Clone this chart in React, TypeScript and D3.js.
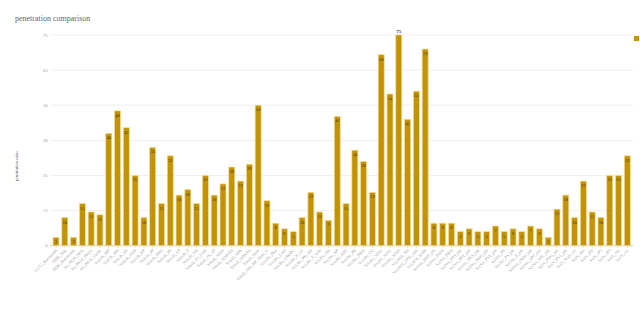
import React from "react";
import * as d3 from "d3";

const categories: string[] = [
  "U17U_Bandwidth", "DDR_Stig", "DDR_Bandwidth", "Int_PKM_PKG", "Int_PKM_PKG2", "Int_PKM_Cache",
  "NetLib_IBP", "NetLib_IBS", "NetLib_IIS", "NetLib_FMS", "NetLib_HP", "NetLib_PP",
  "NetLib_PRO", "NetLib_PS", "NetLib_SP", "NetLib_T", "NetLib_UB", "Vmall_FS_FMS",
  "Vmall_FS_SP", "Vmall_MMS", "Vmall_MMSAS", "Vmall_Mbb", "Vmall_MBSAS", "Vmall_Mem",
  "Vmall_MH_HP_Mem_U", "NcLibe_Pkts", "NcLibe_L4M", "NcLibe_LBOPC", "NcLibe_P_CF", "NcLibe_Pkt_mb",
  "NcLibe_T_Gdb", "NcLibe_ada", "NcLibe_HP", "NcLibe_HPF", "NcLibe_PB", "NcLibe_PHM",
  "NcLibe_CO", "NcLib1_MM1", "NcLib1_MM2", "NcLib1_MM3", "NcLibM_Tbl", "NcLibM_UPK_Lkb",
  "NcLibM_KMB", "SciNet_BKP_job", "SciNet_PMM", "SciNet_PBM", "SciNet_PPS_job", "SciNet_PPT_job",
  "SciNet_PKS_job", "SciNet_PKO_job", "SciNet_PST_job", "SciNet_PV", "SciNet_PS_job", "SciNet_P_job",
  "SciNet_JSEO_job", "SciNet_SPF_job", "SciNet_SPL_job", "SciN_PVO_job", "SciN_PV2_job", "SciN_Nopr_ret",
  "SciN_dist", "SciN_IP1", "SciN_IP2", "SciN_IP3", "SciN_Ntr", "SciN_ver",
];

const values: number[] = [
  3, 10, 3, 15, 12, 11, 40, 48, 42, 25, 10, 35,
  15, 32, 18, 20, 15, 25, 18, 22, 28, 23, 29, 50,
  16, 8, 6, 5, 10, 19, 12, 9, 46, 15, 34, 30,
  19, 68, 54, 75, 45, 55, 70, 8, 8, 8, 5, 6,
  5, 5, 7, 5, 6, 5, 7, 6, 3, 13, 18, 10,
  23, 12, 10, 25, 25, 32,
];

const yTicks: number[] = [0, 12.5, 25, 37.5, 50, 62.5, 75];

const W = 640;
const H = 310;
const BAR = "#c49305";

export default function App() {
  const x = d3
    .scaleBand<string>()
    .domain(categories)
    .range([51.6, 631.7])
    .paddingInner(0.32)
    .paddingOuter(0.16);
  const y = d3.scaleLinear().domain([0, 75]).range([245.7, 35]);
  const bw = x.bandwidth();
  const serif = "'Liberation Serif', 'DejaVu Serif', serif";

  return (
    <svg
      width={W}
      height={H}
      style={{ position: "absolute", left: 0, top: 0, background: "#fff" }}
      fontFamily={serif}
    >
      <text x={15} y={21} fontSize={8} fill="#666">
        penetration comparison
      </text>
      {yTicks.map((t) => (
        <g key={t}>
          <line
            x1={50}
            x2={633}
            y1={y(t)}
            y2={y(t)}
            stroke={t === 0 ? "#cfcfcf" : "#ececec"}
            strokeWidth={t === 0 ? 1 : 0.8}
          />
          <text
            x={47.5}
            y={y(t)}
            dy="0.35em"
            textAnchor="end"
            fontSize={4.6}
            fill="#999"
          >
            {Math.round(t)}
          </text>
        </g>
      ))}
      <text
        transform={`translate(18,${166}) rotate(-90)`}
        textAnchor="middle"
        fontSize={4.4}
        fill="#555"
      >
        penetration value
      </text>
      {categories.map((c, i) => {
        const cx = (x(c) as number) + bw / 2;
        const v = values[i];
        const top = y(v);
        const above = v >= 75;
        return (
          <g key={c}>
            <rect
              x={x(c)}
              y={top}
              width={bw}
              height={y(0) - top}
              fill={BAR}
              stroke="#f2dc95"
              strokeWidth={0.7}
            />
            <line x1={cx} x2={cx} y1={y(0)} y2={y(0) + 2} stroke="#cfcfcf" strokeWidth={0.6} />
            <text
              x={cx}
              y={above ? top - 2.5 : top + 6}
              textAnchor="middle"
              fontSize={above ? 5 : 4.6}
              fontWeight={above ? "bold" : "normal"}
              fill={above ? "#333" : "#4a3800"}
            >
              {v}
            </text>
            <text
              transform={`translate(${cx + 1.5},${y(0) + 5}) rotate(-45)`}
              textAnchor="end"
              fontSize={4.2}
              fill="#a0a0a0"
            >
              {c}
            </text>
          </g>
        );
      })}
      <rect x={634} y={36} width={5} height={5} fill={BAR} />
    </svg>
  );
}
